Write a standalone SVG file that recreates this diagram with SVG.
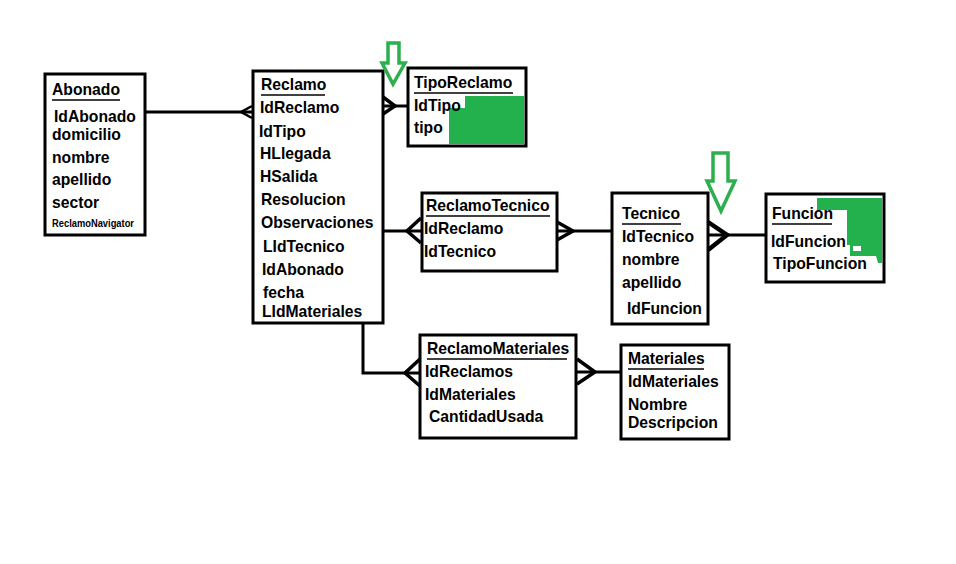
<svg xmlns="http://www.w3.org/2000/svg" width="956" height="564" viewBox="0 0 956 564">
<style>
.box{fill:#fff;stroke:#000;stroke-width:3}
.t{font-family:"Liberation Sans",Arial,sans-serif;font-weight:bold;font-size:15.7px;fill:#000}
.s{font-family:"Liberation Sans",Arial,sans-serif;font-weight:bold;font-size:10px;fill:#000}
.u{stroke:#000;stroke-width:1.5}
.c{fill:none;stroke:#000;stroke-width:3}
.cf{fill:none;stroke:#000;stroke-width:3.5;stroke-linejoin:miter}
.g{fill:#22b14c}
.ga{fill:#fff;stroke:#2eaf4e;stroke-width:3.5;stroke-linejoin:miter}
</style>
<rect width="956" height="564" fill="#fff"/>
<g id="connectors">
<line class="c" x1="145" y1="112" x2="253" y2="112"/>
<polyline class="cf" points="252,106 241,112 252,118" style="stroke-width:2.5"/>
<line class="c" x1="383" y1="106" x2="408" y2="106"/>
<polyline class="cf" points="383,97 395,106 383,114"/>
<line class="c" x1="383" y1="231" x2="422" y2="231"/>
<polyline class="cf" points="421,218 407,231 421,243"/>
<line class="c" x1="557" y1="231" x2="612" y2="231"/>
<polyline class="cf" points="557,222 573,231 557,240"/>
<line class="c" x1="708" y1="235" x2="767" y2="235"/>
<polyline class="cf" points="708,222 727,235 708,250" style="stroke-width:4.5"/>
<polyline class="c" points="363,323 363,373 420,373"/>
<polyline class="cf" points="420,359 405,373 420,386"/>
<line class="c" x1="575" y1="372" x2="622" y2="372"/>
<polyline class="cf" points="577,359 595,372 577,384"/>
</g>
<g id="Abonado">
<rect class="box" x="45" y="74" width="100" height="161"/>
<text class="t" x="52" y="95">Abonado</text>
<line class="u" x1="52" y1="100" x2="120" y2="100"/>
<text class="t" x="54" y="122">IdAbonado</text>
<text class="t" x="52" y="140">domicilio</text>
<text class="t" x="52" y="163">nombre</text>
<text class="t" x="52" y="185">apellido</text>
<text class="t" x="52" y="208">sector</text>
<text class="s" x="52" y="227" textLength="82" lengthAdjust="spacingAndGlyphs">ReclamoNavigator</text>
</g>
<g id="Reclamo">
<rect class="box" x="253" y="71" width="130" height="252"/>
<text class="t" x="261" y="90">Reclamo</text>
<line class="u" x1="261" y1="95" x2="325" y2="95"/>
<text class="t" x="260" y="113">IdReclamo</text>
<text class="t" x="259" y="137">IdTipo</text>
<text class="t" x="260" y="159">HLlegada</text>
<text class="t" x="260" y="182">HSalida</text>
<text class="t" x="261" y="205">Resolucion</text>
<text class="t" x="261" y="228">Observaciones</text>
<text class="t" x="263" y="252">LIdTecnico</text>
<text class="t" x="262" y="275">IdAbonado</text>
<text class="t" x="263" y="298">fecha</text>
<text class="t" x="262" y="317">LIdMateriales</text>
</g>
<g id="TipoReclamo">
<rect class="box" x="408" y="68" width="118" height="78"/>
<polygon class="g" points="465,96 524,96 524,144 449,144 449,108 465,108"/>
<text class="t" x="414" y="88">TipoReclamo</text>
<line class="u" x1="414" y1="93" x2="513" y2="93"/>
<text class="t" x="414" y="111">IdTipo</text>
<text class="t" x="414" y="133">tipo</text>
</g>
<g id="ReclamoTecnico">
<rect class="box" x="422" y="193" width="135" height="78"/>
<text class="t" x="426" y="211">ReclamoTecnico</text>
<line class="u" x1="426" y1="216" x2="550" y2="216"/>
<text class="t" x="424" y="234">IdReclamo</text>
<text class="t" x="424" y="257">IdTecnico</text>
</g>
<g id="Tecnico">
<rect class="box" x="612" y="193" width="96" height="131"/>
<text class="t" x="622" y="219">Tecnico</text>
<line class="u" x1="622" y1="224" x2="681" y2="224"/>
<text class="t" x="622" y="242">IdTecnico</text>
<text class="t" x="622" y="265">nombre</text>
<text class="t" x="622" y="288">apellido</text>
<text class="t" x="627" y="314">IdFuncion</text>
</g>
<g id="Funcion">
<rect class="box" x="766" y="194" width="118" height="88"/>
<polygon class="g" points="817,198 882,198 882,263 878,263 876,256 850,256 850,245 847,245 847,210 817,210"/>
<rect x="853" y="246" width="8" height="5" fill="#fff"/>
<text class="t" x="772" y="219">Funcion</text>
<line class="u" x1="772" y1="224" x2="832" y2="224"/>
<text class="t" x="771" y="247">IdFuncion</text>
<text class="t" x="773" y="269">TipoFuncion</text>
</g>
<g id="ReclamoMateriales">
<rect class="box" x="420" y="335" width="156" height="103"/>
<text class="t" x="427" y="354">ReclamoMateriales</text>
<line class="u" x1="427" y1="359" x2="567" y2="359"/>
<text class="t" x="425" y="377">IdReclamos</text>
<text class="t" x="425" y="400">IdMateriales</text>
<text class="t" x="429" y="422">CantidadUsada</text>
</g>
<g id="Materiales">
<rect class="box" x="621" y="345" width="108" height="94"/>
<text class="t" x="628" y="364">Materiales</text>
<line class="u" x1="628" y1="369" x2="704" y2="369"/>
<text class="t" x="628" y="387">IdMateriales</text>
<text class="t" x="628" y="410">Nombre</text>
<text class="t" x="628" y="428">Descripcion</text>
</g>
<g id="arrows">
<polygon class="ga" points="388,43 399,43 399,63 405,63 393,84 382,63 388,63"/>
<polygon class="ga" points="713,153 728,153 728,181 735,181 721,211 707,181 713,181"/>
</g>
</svg>
